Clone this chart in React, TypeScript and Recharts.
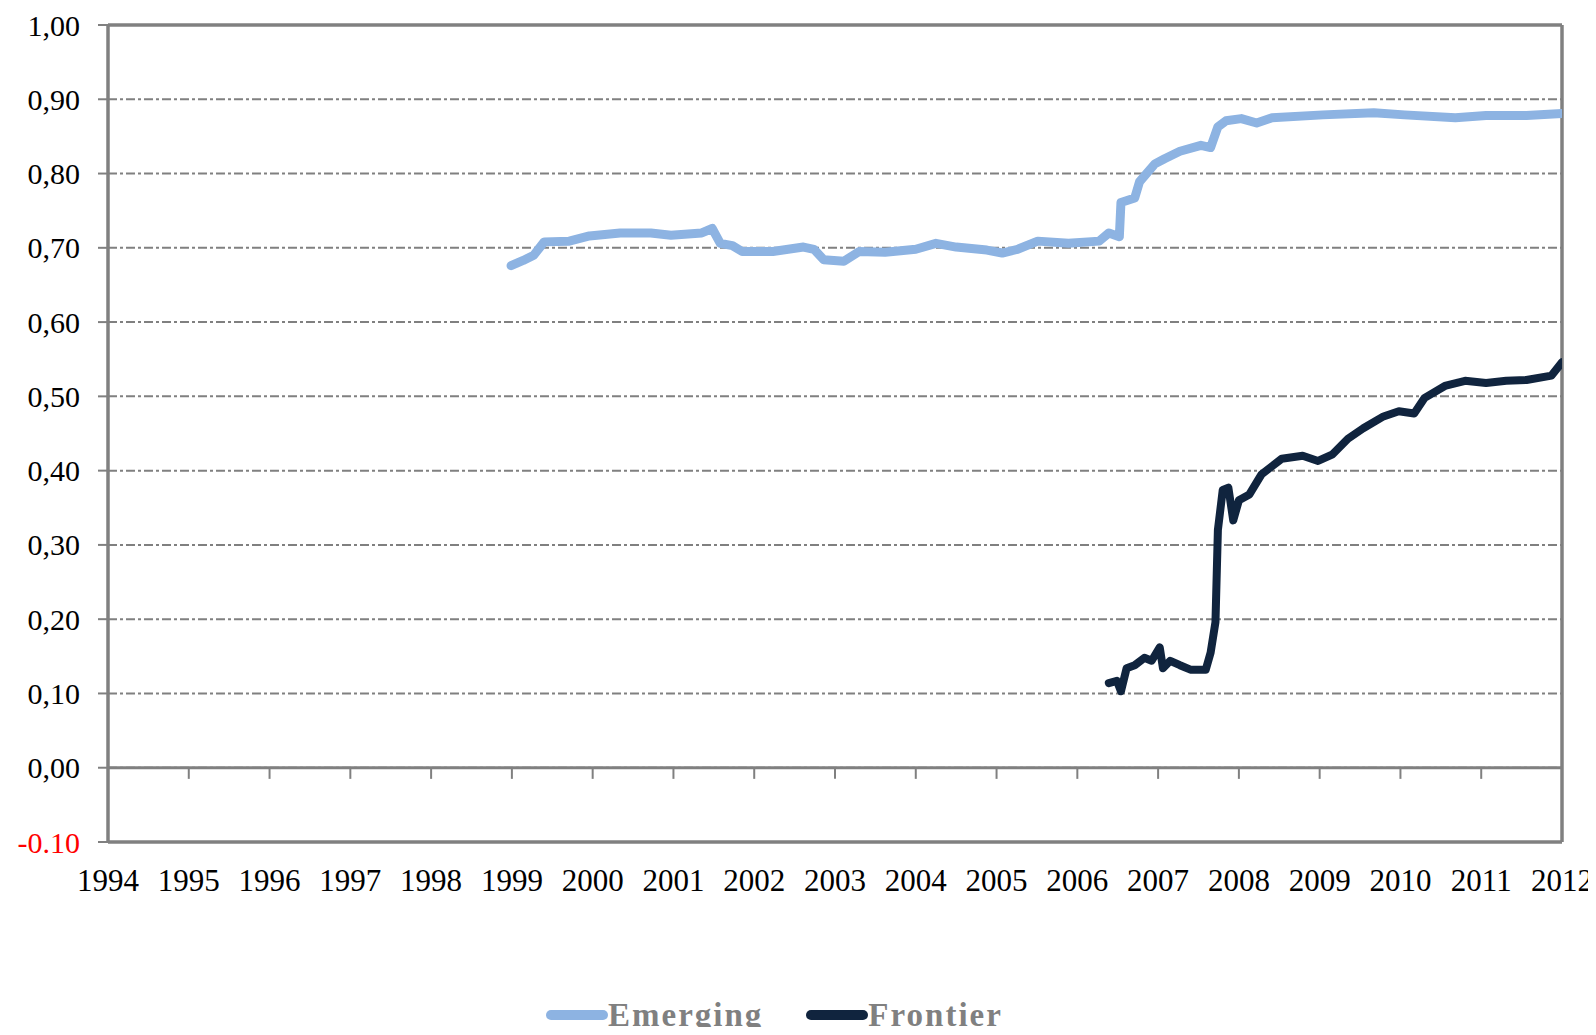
import React from "react";
import {
  LineChart,
  Line,
  XAxis,
  YAxis,
  CartesianGrid,
  ReferenceLine,
} from "recharts";

const yearTicks = [1994, 1995, 1996, 1997, 1998, 1999, 2000, 2001, 2002, 2003, 2004, 2005, 2006, 2007, 2008, 2009, 2010, 2011, 2012];
const valueTicks = [-0.1, 0, 0.1, 0.2, 0.3, 0.4, 0.5, 0.6, 0.7, 0.8, 0.9, 1.0];

const emergingYears = [
  1998.99, 1999.14, 1999.27, 1999.4, 1999.71, 1999.96, 2000.34, 2000.72, 2000.97, 2001.35, 2001.48, 2001.58,
  2001.73, 2001.85, 2002.23, 2002.61, 2002.74, 2002.86, 2003.11, 2003.3, 2003.62, 2004.0, 2004.25, 2004.5,
  2004.88, 2005.07, 2005.26, 2005.51, 2005.89, 2006.27, 2006.39, 2006.52, 2006.54, 2006.71, 2006.77, 2006.96,
  2007.08, 2007.27, 2007.53, 2007.65, 2007.74, 2007.84, 2008.03, 2008.22, 2008.41, 2009.04, 2009.67, 2010.05,
  2010.68, 2011.06, 2011.56, 2012.0,
];
const emergingValues = [
  0.676, 0.683, 0.69, 0.708, 0.709, 0.716, 0.72, 0.72, 0.717, 0.72, 0.726, 0.706,
  0.703, 0.695, 0.695, 0.701, 0.698, 0.684, 0.682, 0.695, 0.694, 0.698, 0.706, 0.701,
  0.697, 0.693, 0.698, 0.709, 0.706, 0.709, 0.72, 0.715, 0.761, 0.767, 0.789, 0.813,
  0.82, 0.83, 0.838, 0.835, 0.863, 0.871, 0.874, 0.868, 0.875, 0.879, 0.882, 0.879,
  0.875, 0.878, 0.878, 0.881,
];

const frontierYears = [
  2006.39, 2006.49, 2006.54, 2006.61, 2006.71, 2006.83, 2006.92, 2007.02, 2007.06, 2007.15, 2007.27, 2007.4,
  2007.59, 2007.65, 2007.71, 2007.74, 2007.8, 2007.87, 2007.93, 2008.0, 2008.13, 2008.28, 2008.53, 2008.79,
  2008.98, 2009.16, 2009.35, 2009.54, 2009.79, 2009.98, 2010.17, 2010.3, 2010.55, 2010.8, 2011.06, 2011.31,
  2011.56, 2011.87, 2012.0,
];
const frontierValues = [
  0.114, 0.117, 0.103, 0.134, 0.138, 0.148, 0.144, 0.162, 0.134, 0.144, 0.138, 0.132,
  0.132, 0.155, 0.196, 0.32, 0.374, 0.377, 0.333, 0.36, 0.368, 0.395, 0.416, 0.42,
  0.413, 0.422, 0.443, 0.457, 0.473, 0.48, 0.477, 0.498, 0.514, 0.521, 0.518, 0.521,
  0.522, 0.528, 0.546,
];

const seriesNames = ["Emerging", "Frontier"];
const seriesColors = ["#8DB3E2", "#10243E"];

const emergingData = emergingYears.map((x, i) => ({ x, v: emergingValues[i] }));
const frontierData = frontierYears.map((x, i) => ({ x, v: frontierValues[i] }));

const FONT = '"Liberation Serif", "Times New Roman", serif';
const GRAY = "#808080";

const YTick = (props: any) => {
  const { x, y, payload } = props;
  const v = payload.value as number;
  const neg = v < 0;
  const label = neg ? v.toFixed(2) : v.toFixed(2).replace(".", ",");
  return (
    <text x={x} y={y} dy="0.35em" textAnchor="end" fontFamily={FONT} fontSize={30} fill={neg ? "#FF0000" : "#000000"}>
      {label}
    </text>
  );
};

const XTick = (props: any) => {
  const { x, y, payload } = props;
  return (
    <text x={x} y={y} dy="0.71em" textAnchor="middle" fontFamily={FONT} fontSize={31} fill="#000000">
      {payload.value}
    </text>
  );
};

const LegendBox = () => (
  <div style={{ position: "absolute", top: 987, left: 538, display: "flex", alignItems: "center", fontFamily: FONT }}>
    {seriesNames.map((name, i) => (
      <div key={name} style={{ display: "flex", alignItems: "center", marginRight: i === 0 ? 43 : 0 }}>
        <svg width={62} height={12} style={{ display: "block" }}>
          <line x1={5} y1={6} x2={57} y2={6} stroke={seriesColors[i]} strokeWidth={10} strokeLinecap="round" />
        </svg>
        <span style={{ fontWeight: "bold", fontSize: 33, letterSpacing: 2, color: GRAY, lineHeight: "40px" }}>{name}</span>
      </div>
    ))}
  </div>
);

export default function App() {
  return (
    <div style={{ position: "relative", width: 1588, height: 1019 }}>
      <LineChart width={1588} height={1019} margin={{ top: 17, right: 34, bottom: 155, left: 0 }}>
        <CartesianGrid horizontal vertical={false} stroke={GRAY} strokeWidth={2} strokeDasharray="9 3 3 3" />
        <XAxis
          type="number"
          dataKey="x"
          domain={[1994, 2012]}
          ticks={yearTicks}
          allowDataOverflow
          interval={0}
          height={30}
          axisLine={{ stroke: GRAY, strokeWidth: 3.5 }}
          tickLine={false}
          tickSize={0}
          tickMargin={27}
          tick={<XTick />}
        />
        <YAxis
          type="number"
          domain={[-0.1, 1.0]}
          ticks={valueTicks}
          interval={0}
          width={100}
          axisLine={{ stroke: GRAY, strokeWidth: 3.5 }}
          tickLine={{ stroke: GRAY, strokeWidth: 2 }}
          tickSize={10}
          tickMargin={18}
          tick={<YTick />}
        />
        <ReferenceLine y={0} stroke={GRAY} strokeWidth={3} />
        <ReferenceLine y={1.0} stroke={GRAY} strokeWidth={3.5} />
        <ReferenceLine x={2012} stroke={GRAY} strokeWidth={3.5} />
        {yearTicks.slice(1, -1).map((yr) => (
          <ReferenceLine
            key={yr}
            segment={[
              { x: yr, y: 0 },
              { x: yr, y: -0.015 },
            ]}
            stroke={GRAY}
            strokeWidth={2}
          />
        ))}
        <Line
          data={emergingData}
          dataKey="v"
          name={seriesNames[0]}
          stroke={seriesColors[0]}
          strokeWidth={9}
          dot={false}
          type="linear"
          strokeLinejoin="round"
          strokeLinecap="round"
          isAnimationActive={false}
        />
        <Line
          data={frontierData}
          dataKey="v"
          name={seriesNames[1]}
          stroke={seriesColors[1]}
          strokeWidth={8}
          dot={false}
          type="linear"
          strokeLinejoin="round"
          strokeLinecap="round"
          isAnimationActive={false}
        />
      </LineChart>
      <LegendBox />
    </div>
  );
}
